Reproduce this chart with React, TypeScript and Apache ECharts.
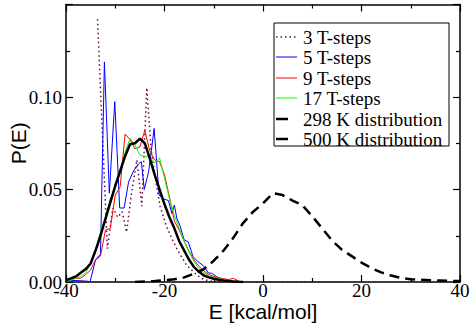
import React, { useEffect, useRef } from "react";
import * as echarts from "echarts";

// ---- data ----
const gridE = [-40, -39, -38, -37, -36, -35, -34, -33, -32, -31, -30, -29, -28, -27, -26, -25, -24, -23, -22, -21, -20, -19, -18, -17, -16, -15, -14, -13, -12, -11, -10, -9, -8, -7, -6, -5, -4];

const dist298P = [0.001, 0.002, 0.003, 0.005, 0.007, 0.010, 0.017, 0.025, 0.034, 0.043, 0.052, 0.060, 0.068, 0.0745, 0.075, 0.0775, 0.075, 0.067, 0.058, 0.050, 0.042, 0.035, 0.029, 0.022, 0.017, 0.012, 0.008, 0.0055, 0.0035, 0.0025, 0.0018, 0.0012, 0.0008, 0.0005, 0.0003, 0.0001, 0];

const steps9P = [0.001, 0.0015, 0.002, 0.002, 0.004, 0.0065, 0.012, 0.014, 0.028, 0.029, 0.047, 0.0515, 0.080, 0.077, 0.072, 0.073, 0.082, 0.071, 0.066, 0.065, 0.058, 0.046, 0.033, 0.028, 0.022, 0.0165, 0.012, 0.0085, 0.006, 0.004, 0.003, 0.0023, 0.0018, 0.0013, 0.002, 0.0005, 0];

const steps17P = [0.0005, 0.001, 0.002, 0.003, 0.005, 0.010, 0.017, 0.027, 0.035, 0.045, 0.051, 0.0596, 0.070, 0.0777, 0.074, 0.0686, 0.068, 0.0677, 0.0645, 0.067, 0.056, 0.045, 0.036, 0.029, 0.022, 0.016, 0.011, 0.0072, 0.005, 0.0035, 0.0025, 0.002, 0.0012, 0.0006, 0, 0, 0];

const steps5E = [-40, -38, -36, -35.1, -34, -33, -32.2, -31.2, -30.1, -29.1, -28.2, -27.3, -26.3, -25.2, -24.7, -24.1, -23.2, -22.1, -21.1, -20.2, -19.2, -18.5, -18.0, -17.5, -16.8, -16.0, -15.2, -14.2, -13.2, -12.1, -11.1, -10.4, -9.4, -8.1, -6.7, -5.5];
const steps5P = [0.001, 0.0008, 0.0005, 0.0002, 0.012, 0.015, 0.119, 0.048, 0.0975, 0.040, 0.040, 0.054, 0.060, 0.064, 0.065, 0.050, 0.060, 0.083, 0.047, 0.045, 0.044, 0.037, 0.0416, 0.0345, 0.030, 0.0227, 0.0218, 0.0137, 0.011, 0.0088, 0.0049, 0.0047, 0.0029, 0.001, 0.0003, 0];

const steps3E = [-33.6, -32.6, -31.6, -30.5, -29.5, -28.6, -27.7, -26.7, -25.6, -24.6, -23.6, -22.7, -21.8, -20.9, -19.6, -18.4, -17.5, -16.5, -15.5, -14.5, -13.5, -12.5, -11.5, -10.5, -9.5, 17];
const steps3P = [0.142, 0.080, 0.018, 0.040, 0.035, 0.038, 0.027, 0.048, 0.066, 0.041, 0.105, 0.071, 0.055, 0.041, 0.030, 0.023, 0.018, 0.0135, 0.009, 0.0065, 0.004, 0.002, 0.001, 0.0005, 0, 0];

const dist500E = [-26, -24, -22, -20, -18, -16, -14, -12, -10, -8, -6, -4, -2, 0, 2, 4, 6, 8, 10, 12, 14, 16, 18, 20, 22, 24, 26, 28, 30, 32, 34, 36, 38, 40];
const dist500P = [0, 0.0003, 0.0005, 0.001, 0.0015, 0.0025, 0.0045, 0.007, 0.0115, 0.017, 0.024, 0.032, 0.038, 0.0425, 0.048, 0.047, 0.044, 0.0415, 0.0355, 0.029, 0.0225, 0.0175, 0.014, 0.0105, 0.0075, 0.0052, 0.0035, 0.0022, 0.0015, 0.0012, 0.001, 0.0008, 0.0006, 0.0005];

const legendLabels = ["3 T-steps", "5 T-steps", "9 T-steps", "17 T-steps", "298 K distribution", "500 K distribution"];

const MAROON = "rgb(103,7,72)";
const SERIF = "'Liberation Serif', 'Times New Roman', serif";
const SANS = "'Liberation Sans', Arial, sans-serif";

const zip = (xs: number[], ys: number[]) => xs.map((x, i) => [x, ys[i]]);

export default function App() {
  const ref = useRef<HTMLDivElement>(null);
  useEffect(() => {
    if (!ref.current) return;
    const chart = echarts.init(ref.current, null, { renderer: "svg" });

    const axisCommon = {
      type: "value" as const,
      axisLine: { show: true, onZero: false, lineStyle: { color: "#000", width: 1.5 } },
      axisTick: { show: true, inside: true, length: 7, lineStyle: { color: "#000", width: 1.2 } },
      minorTick: { show: true, splitNumber: 2, length: 4, lineStyle: { color: "#000", width: 1.2 } },
      splitLine: { show: false },
      minorSplitLine: { show: false },
    };

    const rowY = [37, 57, 78, 98, 119, 139];
    const sampleStyles: any[] = [
      { stroke: MAROON, lineWidth: 1.5, lineDash: [1.5, 3] },
      { stroke: "#0000ff", lineWidth: 1 },
      { stroke: "#ff0000", lineWidth: 1 },
      { stroke: "#00ff00", lineWidth: 1 },
      { stroke: "#000000", lineWidth: 2.5 },
      { stroke: "#000000", lineWidth: 2.5 },
    ];
    const sampleEnd = [297, 297, 297, 297, 288, 288];
    const legendEls: any[] = [
      {
        id: "legend-box",
        type: "rect",
        shape: { x: 274, y: 23, width: 175, height: 123 },
        style: { fill: "#fff", stroke: "#000", lineWidth: 1 },
        z: 10,
      },
    ];
    legendLabels.forEach((label, i) => {
      legendEls.push({
        id: "legend-line-" + i,
        type: "line",
        shape: { x1: 276, y1: rowY[i], x2: sampleEnd[i], y2: rowY[i] },
        style: sampleStyles[i],
        z: 11,
      });
      legendEls.push({
        id: "legend-text-" + i,
        type: "text",
        x: 303,
        y: rowY[i],
        style: {
          text: label,
          font: `19px ${SERIF}`,
          fill: "#000",
          verticalAlign: "middle",
        },
        z: 11,
      });
    });

    chart.setOption({
      animation: false,
      grid: { left: 66, right: 14, top: 4.5, bottom: 46, containLabel: false, outerBoundsMode: "none" },
      xAxis: [
        {
          ...axisCommon,
          position: "bottom",
          min: -40,
          max: 40,
          interval: 20,
          axisLabel: { color: "#000", fontFamily: SERIF, fontSize: 19, margin: -1 },
          name: "E [kcal/mol]",
          nameLocation: "middle",
          nameGap: 19,
          nameMoveOverlap: false,
          nameTextStyle: { color: "#000", fontFamily: SANS, fontSize: 21 },
        },
        {
          ...axisCommon,
          position: "top",
          min: -40,
          max: 40,
          interval: 20,
          axisLabel: { show: false },
        },
      ],
      yAxis: [
        {
          ...axisCommon,
          position: "left",
          min: 0,
          max: 0.15,
          interval: 0.05,
          axisLabel: {
            color: "#000",
            fontFamily: SERIF,
            fontSize: 19,
            margin: 4,
            showMaxLabel: false,
            formatter: (v: number) => v.toFixed(2),
          },
          name: "P(E)",
          nameLocation: "middle",
          nameGap: 37,
          nameMoveOverlap: false,
          nameTextStyle: { color: "#000", fontFamily: SANS, fontSize: 21 },
        },
        {
          ...axisCommon,
          position: "right",
          min: 0,
          max: 0.15,
          interval: 0.05,
          axisLabel: { show: false },
        },
      ],
      series: [
        {
          name: legendLabels[0],
          type: "line",
          data: zip(steps3E, steps3P),
          symbol: "none",
          lineStyle: { color: MAROON, width: 1.5, type: [1.5, 3] },
        },
        {
          name: legendLabels[1],
          type: "line",
          data: zip(steps5E, steps5P),
          symbol: "none",
          lineStyle: { color: "#0000ff", width: 1 },
        },
        {
          name: legendLabels[2],
          type: "line",
          data: zip(gridE, steps9P),
          symbol: "none",
          lineStyle: { color: "#ff0000", width: 1 },
        },
        {
          name: legendLabels[3],
          type: "line",
          data: zip(gridE, steps17P),
          symbol: "none",
          lineStyle: { color: "#00ff00", width: 1 },
        },
        {
          name: legendLabels[4],
          type: "line",
          data: zip(gridE, dist298P),
          symbol: "none",
          lineStyle: { color: "#000", width: 2.5 },
        },
        {
          name: legendLabels[5],
          type: "line",
          data: zip(dist500E, dist500P),
          symbol: "none",
          lineStyle: { color: "#000", width: 2.5, type: [10, 6] },
        },
      ],
      graphic: { elements: legendEls },
    });

    return () => chart.dispose();
  }, []);

  return <div ref={ref} style={{ width: 474, height: 328, position: "absolute", left: 0, top: 0 }} />;
}
